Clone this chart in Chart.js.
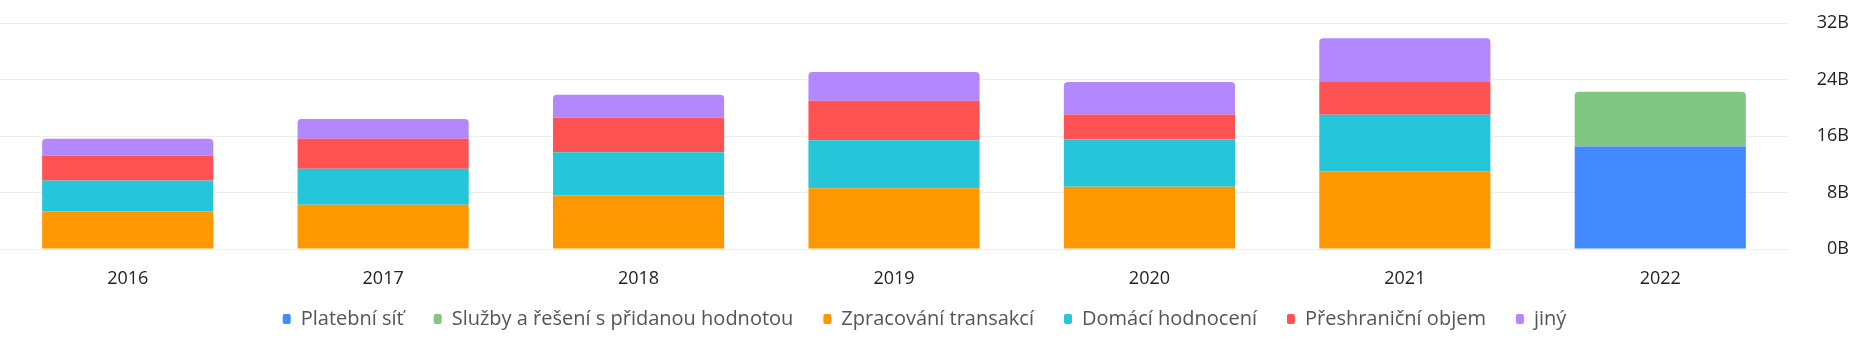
<!DOCTYPE html>
<html>
<head>
<meta charset="utf-8">
<script src="https://cdn.jsdelivr.net/npm/chart.js@4"></script>
<style>
    html, body { margin: 0; padding: 0; background: #fff; overflow: hidden; }
    #wrap { width: 1870px; height: 340px; }
</style>
</head>
<body>
<div id="wrap"><canvas id="revenueChart"></canvas></div>
<script>
// revenue by segment, in billions
const years = ['2016', '2017', '2018', '2019', '2020', '2021', '2022'];
const paymentNetwork = [null, null, null, null, null, null, 14.5];
const valueAdded = [null, null, null, null, null, null, 7.75];
const transactionProcessing = [5.3, 6.27, 7.6, 8.6, 8.8, 11.0, null];
const domesticAssessments = [4.4, 5.1, 6.1, 6.8, 6.7, 8.0, null];
const crossBorderVolume = [3.5, 4.25, 4.9, 5.6, 3.55, 4.65, null];
const other = [2.4, 2.8, 3.25, 4.05, 4.6, 6.2, null];
const yTicks = [0, 8, 16, 24, 32];

const fontFamily = '"Open Sans", "Noto Sans", sans-serif';
const topRound = { topLeft: 4, topRight: 4, bottomLeft: 0, bottomRight: 0 };

// the x axis is kept short so the legend fits; let its labels
// overflow into the legend's top padding instead of being clipped
const xLabelRoom = {
    id: 'xLabelRoom',
    afterLayout(chart) {
        chart.scales.x.bottom += 14;
    }
};

document.addEventListener("DOMContentLoaded", function () {
    const ctx = document.getElementById('revenueChart').getContext('2d');

    new Chart(ctx, {
        type: 'bar',
        data: {
            labels: years,
            datasets: [
                { label: 'Platební síť', data: paymentNetwork, backgroundColor: '#448aff' },
                { label: 'Služby a řešení s přidanou hodnotou', data: valueAdded, backgroundColor: '#81c784', borderRadius: topRound, borderSkipped: false },
                { label: 'Zpracování transakcí', data: transactionProcessing, backgroundColor: '#ff9800' },
                { label: 'Domácí hodnocení', data: domesticAssessments, backgroundColor: '#26c6da' },
                { label: 'Přeshraniční objem', data: crossBorderVolume, backgroundColor: '#ff5252' },
                { label: 'jiný', data: other, backgroundColor: '#b388ff', borderRadius: topRound, borderSkipped: false }
            ]
        },
        options: {
            responsive: true,
            maintainAspectRatio: false,
            animation: false,
            datasets: {
                bar: { categoryPercentage: 1, barPercentage: 0.67 }
            },
            layout: {
                padding: { top: 23, right: 21, bottom: 1, left: 0 }
            },
            scales: {
                x: {
                    stacked: true,
                    afterFit: axis => {
                        axis.height = 30;
                    },
                    grid: { display: false, drawTicks: false },
                    border: { display: false },
                    ticks: {
                        padding: 19,
                        color: '#222',
                        font: { family: fontFamily, size: 18 }
                    }
                },
                y: {
                    stacked: true,
                    position: 'right',
                    min: 0,
                    max: 32,
                    afterBuildTicks: axis => {
                        axis.ticks = yTicks.map(v => ({ value: v }));
                    },
                    afterFit: axis => {
                        axis.width = 61;
                        axis.paddingTop = 0;
                        axis.paddingBottom = 0;
                    },
                    grid: { color: '#eeeeee', drawTicks: false },
                    border: { display: false },
                    ticks: {
                        padding: 10,
                        crossAlign: 'far',
                        color: '#222',
                        font: { family: fontFamily, size: 18 },
                        callback: value => value + 'B'
                    }
                }
            },
            plugins: {
                legend: {
                    position: 'bottom',
                    labels: {
                        boxWidth: 8,
                        boxHeight: 10,
                        useBorderRadius: true,
                        borderRadius: 2,
                        padding: 30,
                        color: '#555',
                        font: { family: fontFamily, size: 20 }
                    }
                },
                tooltip: { enabled: false }
            }
        },
        plugins: [xLabelRoom]
    });
});
</script>
</body>
</html>
